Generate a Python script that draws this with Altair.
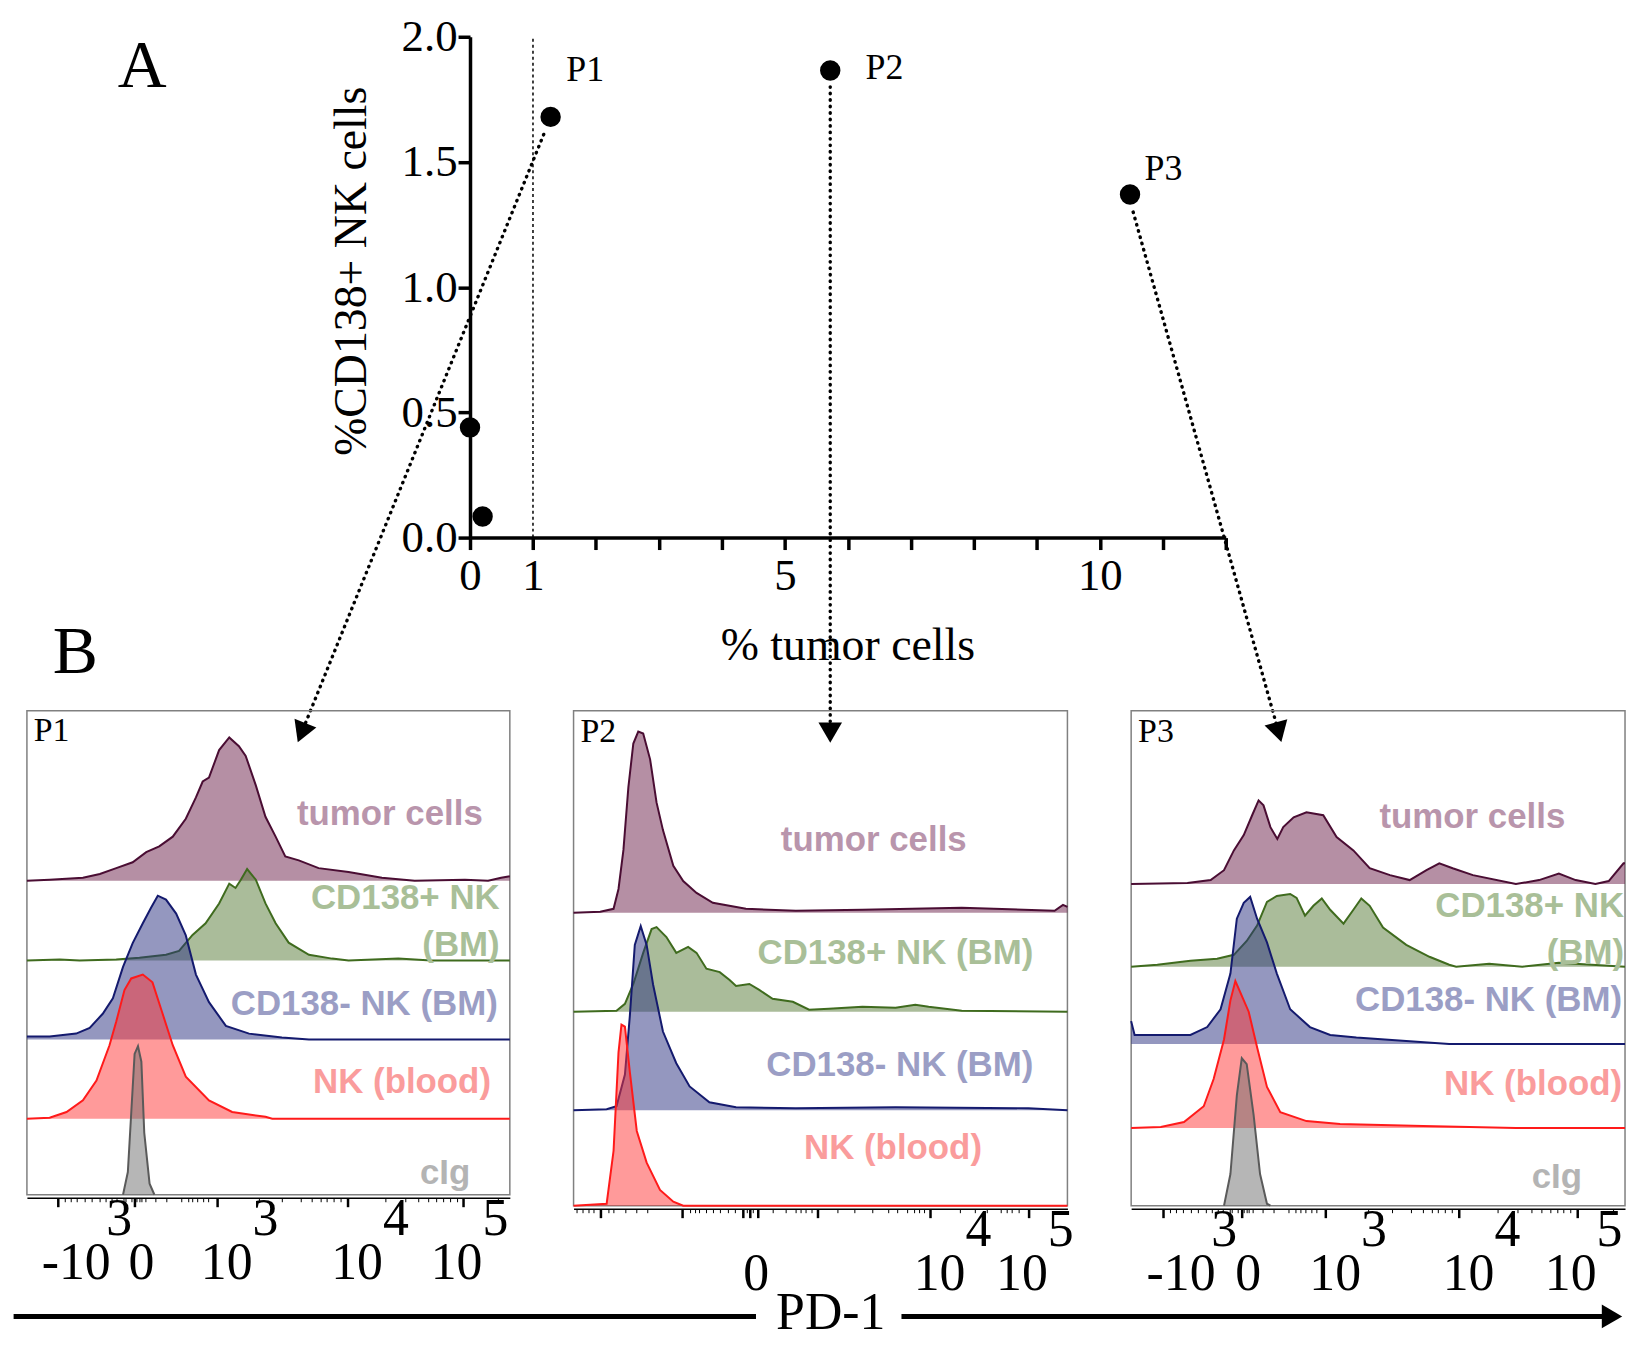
import altair as alt
import pandas as pd

SERIF = "Liberation Serif"
SANS = "Liberation Sans"

# ---------------- Panel A : scatter ----------------
TUMOR_PCT = [0.0, 0.2, 1.28, 5.72, 10.48]
CD138_NK_PCT = [0.44, 0.084, 1.68, 1.865, 1.37]

PATIENT_LABELS = ["P1", "P2", "P3"]
PATIENT_LABEL_X = [1.53, 6.28, 10.71]
PATIENT_LABEL_Y = [1.825, 1.833, 1.427]

X_TICKS = list(range(0, 13))
X_LABELLED = [0, 1, 5, 10]
Y_TICKS = [0.0, 0.5, 1.0, 1.5, 2.0]

# dotted connectors (scatter data units) from the patients to their histograms
ARROW_START_X = [1.17, 5.72, 10.53]
ARROW_START_Y = [1.61, 1.80, 1.30]
ARROW_HEAD_X = [-2.674, 5.72, 12.84]
ARROW_HEAD_Y = [-0.779, -0.779, -0.777]
ARROW_ANGLE = [22, 0, 344.6]

PANEL_LETTERS = ["A", "B"]
PANEL_LETTER_X = [-5.206, -6.266]
PANEL_LETTER_Y = [1.80, -0.54]

PD1_Y = -3.11
PD1_TEXT_Y = -3.095
PD1_SEG_X = [-7.247, 6.851]
PD1_SEG_X2 = [4.541, 18.133]
PD1_TEXT_X = 5.728
PD1_HEAD_X = 18.133

# ---------------- Panel B : PD-1 histograms (channel %, height % of panel) -------
P1_TUMOR = [(0, 0), (4.7, 0.2), (11.6, 0.6), (15.1, 1.4), (18.5, 2.6), (21.9, 3.8), (24.7, 5.9),
            (27.4, 7.1), (30.2, 9.1), (32.9, 12.8), (35.0, 17.2), (36.4, 20.5), (37.7, 21.3),
            (39.8, 27.0), (41.9, 29.6), (43.9, 27.8), (45.3, 25.8), (47.4, 19.7), (49.4, 13.2),
            (51.5, 9.1), (53.5, 5.0), (56.3, 4.2), (60.4, 2.6), (66.6, 1.8), (73.5, 0.6),
            (80.3, 0.0), (90.7, 0.2), (95.5, 0.0), (98.2, 0.6), (100, 0.9)]
P1_CD138P = [(0, 0), (6.8, 0.2), (10.9, 0), (18.5, 0.2), (23.3, 0.6), (28.8, 1.2), (31.5, 2.0),
             (34.3, 5.3), (37.0, 7.7), (39.8, 11.8), (41.9, 15.9), (43.2, 15.0), (44.3, 16.7),
             (45.6, 18.9), (47.4, 16.7), (49.4, 11.8), (51.5, 7.7), (54.2, 3.7), (58.4, 1.2),
             (63.2, 0.4), (66.6, 0), (76.9, 0.4), (83.7, 0), (100, 0)]
P1_CD138N = [(0, 0.6), (4.7, 0.6), (10.2, 1.2), (13.0, 2.4), (15.7, 5.3), (17.8, 8.5), (19.9, 15.0),
             (21.9, 19.9), (24.0, 24.0), (25.7, 27.2), (27.1, 29.7), (28.8, 28.9), (30.9, 26.0),
             (32.9, 21.5), (35.0, 13.4), (37.7, 7.7), (41.2, 2.8), (46.0, 1.2), (52.8, 0.4),
             (58.4, 0), (100, 0)]
P1_NK = [(0, 0), (4.7, 0.2), (8.2, 1.4), (11.6, 3.8), (14.4, 7.9), (17.1, 15.2), (18.5, 20.1),
         (20.2, 26.6), (21.6, 29.0), (24.0, 29.8), (26.0, 28.2), (28.1, 21.7), (30.2, 15.2),
         (32.9, 8.7), (37.7, 3.8), (42.5, 1.4), (49.4, 0.4), (50.8, 0), (100, 0)]
P1_CIG = [(19.9, 0), (20.9, 4.7), (21.6, 16.9), (22.3, 29.1), (23.0, 30.7), (23.7, 27.5),
          (24.3, 12.8), (25.4, 2.3), (26.4, 0)]

P2_TUMOR = [(0, 0), (5.4, 0.2), (8.1, 0.8), (9.1, 4.8), (10.1, 12.7), (11.1, 25.4), (12.1, 34.2),
            (13.1, 36.6), (14.1, 36.2), (15.5, 31.0), (16.8, 22.3), (18.1, 16.7), (20.2, 9.5),
            (22.2, 6.4), (24.9, 4.0), (28.2, 2.0), (34.9, 0.8), (45.0, 0.4), (58.5, 0.6),
            (78.6, 1.0), (97.4, 0.4), (99.1, 1.6), (100, 1.2)]
P2_CD138P = [(0, 0), (8.7, 0.2), (10.4, 1.6), (12.1, 5.6), (14.1, 11.9), (15.8, 16.7), (16.8, 17.1),
             (18.8, 15.1), (20.8, 11.9), (23.2, 13.1), (24.9, 11.9), (26.9, 8.7), (29.6, 8.0),
             (31.6, 6.4), (32.9, 5.2), (35.6, 5.6), (37.6, 4.4), (40.3, 2.6), (44.4, 2.0),
             (47.7, 0.4), (51.7, 0.6), (58.5, 1.0), (65.2, 0.8), (69.2, 1.4), (71.9, 1.0),
             (78.6, 0.2), (100, 0)]
P2_CD138N = [(0, 0), (6.7, 0.2), (8.7, 0.8), (10.4, 7.2), (11.4, 19.1), (12.4, 33.4), (13.6, 37.2),
             (14.8, 33.4), (16.1, 25.4), (18.1, 15.9), (20.8, 9.5), (23.5, 4.8), (27.5, 1.6),
             (32.9, 0.6), (45.0, 0.4), (65.2, 0.6), (92.1, 0.4), (100, 0)]
P2_NK = [(0, 0), (6.7, 0.4), (8.1, 11.1), (9.1, 31.0), (9.7, 36.6), (10.4, 36.2), (11.4, 27.0),
         (12.8, 15.1), (14.8, 8.7), (17.5, 3.2), (20.2, 0.8), (22.2, 0), (100, 0)]

P3_TUMOR = [(0, 0), (11.4, 0.2), (16.1, 0.8), (18.8, 2.8), (20.8, 6.8), (22.8, 9.9), (24.5, 13.9),
            (25.8, 16.9), (26.8, 15.9), (28.2, 11.5), (29.6, 9.1), (30.8, 11.5), (32.9, 13.5),
            (35.5, 14.5), (38.9, 13.9), (41.6, 9.5), (45.0, 6.8), (48.3, 3.2), (52.4, 1.8),
            (56.4, 0.8), (59.8, 2.8), (62.4, 4.2), (65.1, 3.2), (69.2, 1.8), (77.9, 0),
            (82.6, 0.8), (86.6, 2.1), (90.0, 0.8), (94.0, 0), (96.7, 0.6), (99.7, 4.2), (100, 4.2)]
P3_CD138P = [(0, 0), (5.3, 0.4), (12.0, 1.2), (17.4, 1.6), (20.8, 2.4), (23.4, 5.2), (25.5, 8.3),
             (27.5, 13.1), (29.5, 14.3), (32.2, 14.7), (33.5, 13.9), (35.2, 10.3), (36.9, 12.3),
             (38.6, 13.8), (40.3, 11.5), (43.0, 8.7), (45.0, 11.5), (46.6, 13.8), (48.3, 12.3),
             (51.0, 7.9), (55.7, 4.4), (60.4, 2.0), (64.4, 0.4), (65.8, 0), (72.5, 0.6),
             (79.2, 0), (86.6, 0.8), (100, 0)]
P3_CD138N = [(0, 4.6), (0.7, 1.8), (5.3, 1.8), (12.0, 1.8), (15.4, 3.4), (18.1, 7.0), (20.1, 14.2),
             (21.4, 25.3), (22.8, 28.5), (24.1, 29.7), (25.5, 25.3), (27.5, 20.5), (29.5, 14.2),
             (32.2, 7.0), (36.2, 3.4), (40.3, 1.8), (45.6, 1.3), (55.7, 0.6), (64.4, 0), (100, 0)]
P3_NK = [(0, 0), (6.0, 0.2), (10.7, 1.2), (14.7, 4.4), (16.7, 9.9), (18.8, 17.9), (20.1, 25.8),
         (21.1, 29.7), (22.1, 27.4), (23.8, 23.5), (25.5, 16.3), (27.5, 8.3), (30.2, 3.2),
         (35.5, 1.4), (42.3, 0.8), (59.1, 0.4), (77.9, 0), (100, 0)]
P3_CIG = [(18.8, 0), (20.1, 6.4), (21.4, 22.3), (22.4, 29.8), (23.4, 28.6), (24.8, 18.3),
          (26.1, 6.4), (27.5, 0.4), (28.2, 0)]

POPULATIONS = ["tumor", "cd138p", "cd138n", "nk", "cig"]
POP_FILL = {"tumor": "#6B1F4A", "cd138p": "#557A35", "cd138n": "#2A2F80", "nk": "#FF3535", "cig": "#6E6E6E"}
POP_LINE = {"tumor": "#4A0D33", "cd138p": "#3F6B1E", "cd138n": "#141A6E", "nk": "#FF1A1A", "cig": "#5A5A5A"}
POP_TEXT = {"tumor": "#B995AC", "cd138p": "#A9BF98", "cd138n": "#9B9EC5", "nk": "#FA9C9C", "cig": "#B4B4B4"}

P1_CURVES = {"tumor": P1_TUMOR, "cd138p": P1_CD138P, "cd138n": P1_CD138N, "nk": P1_NK, "cig": P1_CIG}
P2_CURVES = {"tumor": P2_TUMOR, "cd138p": P2_CD138P, "cd138n": P2_CD138N, "nk": P2_NK}
P3_CURVES = {"tumor": P3_TUMOR, "cd138p": P3_CD138P, "cd138n": P3_CD138N, "nk": P3_NK, "cig": P3_CIG}

# ridge offsets (% of panel height)
P1_OFFSETS = {"tumor": 64.9, "cd138p": 48.4, "cd138n": 32.1, "nk": 15.7, "cig": 0}
P2_OFFSETS = {"tumor": 59.2, "cd138p": 39.2, "cd138n": 19.3, "nk": 0}
P3_OFFSETS = {"tumor": 65.0, "cd138p": 48.3, "cd138n": 32.7, "nk": 15.7, "cig": 0}

# population labels: (text, pop, channel of right edge, height)
P1_LABELS = [("tumor cells", "tumor", 94.4, 78.6), ("CD138+ NK", "cd138p", 97.9, 61.3),
             ("(BM)", "cd138p", 97.9, 51.6), ("CD138- NK (BM)", "cd138n", 97.5, 39.5),
             ("NK (blood)", "nk", 96.1, 23.3), ("cIg", "cig", 91.8, 4.5)]
P2_LABELS = [("tumor cells", "tumor", 79.6, 73.8), ("CD138+ NK (BM)", "cd138p", 93.1, 51.1),
             ("CD138- NK (BM)", "cd138n", 93.1, 28.4), ("NK (blood)", "nk", 82.7, 11.7)]
P3_LABELS = [("tumor cells", "tumor", 87.9, 78.5), ("CD138+ NK", "cd138p", 99.8, 60.6),
             ("(BM)", "cd138p", 99.8, 51.1), ("CD138- NK (BM)", "cd138n", 99.4, 41.6),
             ("NK (blood)", "nk", 99.4, 24.5), ("cIg", "cig", 91.3, 5.8)]

# logicle axis ticks (channel %)
AXIS_A_TICKS = [6.45, 7.84, 9.0, 10.4, 12.0, 13.5, 15.05, 16.3, 17.5, 18.6, 19.9, 20.4, 21.6, 22.3,
                22.7, 23.3, 23.8, 24.5, 26.7, 28.8, 31.9, 33.3, 34.3, 35.3, 36.4, 37.6, 39.4, 48.0,
                52.8, 56.6, 59.0, 60.8, 62.1, 63.5, 64.9, 66.4, 74.2, 78.3, 81.0, 83.1, 84.8, 86.2,
                87.6, 89.0, 90.3, 97.5]
AXIS_A_MAJOR = [6.45, 22.3, 39.4, 66.4, 90.3]
# (tick, base text, exponent, number of no-break spaces before the exponent)
AXIS_A_LABELS = [(6.45, "-10", "3", 5), (22.3, "0", "", 0), (39.4, "10", "3", 4),
                 (66.4, "10", "4", 4), (90.3, "10", "5", 4)]
AXIS_B_TICKS = [0.7, 1.9, 3.0, 4.0, 5.4, 7.1, 8.1, 10.4, 12.8, 14.9, 22.0, 23.5, 24.5, 25.5, 26.9,
                28.2, 29.6, 31.3, 32.6, 34.3, 35.0, 35.6, 36.3, 37.3, 40.3, 43.0, 45.0, 46.0, 47.0,
                48.1, 49.4, 53.4, 56.8, 60.5, 63.8, 65.5, 67.5, 68.9, 69.9, 70.9, 72.2, 78.3, 81.3,
                83.7, 86.4, 87.7, 88.7, 90.1, 92.1]
AXIS_B_MAJOR = [5.4, 22.0, 34.3, 35.6, 37.3, 49.4, 72.2, 92.1]
AXIS_B_LABELS = [(35.6, "0", "", 0), (72.2, "10", "4", 4), (92.1, "10", "5", 4)]


# ======================= Panel A chart =======================
xs = alt.Scale(domain=[0, 12], range=[-104, 655], nice=False, zero=False)
ys = alt.Scale(domain=[0, 2], nice=False, zero=False)
x_axis = alt.Axis(values=X_TICKS,
                  labelExpr="indexof(%s, datum.value) >= 0 ? datum.label : ''" % str(X_LABELLED),
                  title="% tumor cells", titleFont=SERIF, titleFontSize=46, titleFontWeight="normal",
                  titleColor="black", titlePadding=25, titleX=275, labelFont=SERIF, labelFontSize=45,
                  labelColor="black", labelPadding=4, tickSize=12, tickWidth=3.5, tickColor="black",
                  domainColor="black", domainWidth=3.5, grid=False, labelFlush=False,
                  labelOverlap=False, labelBound=False)
y_axis = alt.Axis(values=Y_TICKS, format=".1f", title="%CD138+ NK cells", titleFont=SERIF,
                  titleFontSize=46, titleFontWeight="normal", titleColor="black", titlePadding=26,
                  titleY=235, offset=104,
                  labelFont=SERIF, labelFontSize=45, labelColor="black", labelPadding=1,
                  tickSize=12, tickWidth=3.5, tickColor="black", domainColor="black",
                  domainWidth=3.5, grid=False, labelFlush=False, labelOverlap=False)
XA = alt.X("x:Q", scale=xs, axis=x_axis)
YA = alt.Y("y:Q", scale=ys, axis=y_axis)

pts = pd.DataFrame({"x": TUMOR_PCT, "y": CD138_NK_PCT})
points = alt.Chart(pts).mark_circle(size=420, color="black", opacity=1).encode(x=XA, y=YA)

vline = alt.Chart(pd.DataFrame({"x": [1], "y": [0], "y2": [2]})).mark_rule(
    color="black", strokeWidth=1.5, strokeDash=[3, 3]).encode(x=XA, y=YA, y2="y2:Q")

arrows_df = pd.DataFrame({"x": ARROW_START_X, "y": ARROW_START_Y,
                          "x2": ARROW_HEAD_X, "y2": ARROW_HEAD_Y})
arrow_lines = alt.Chart(arrows_df).mark_rule(
    color="black", strokeWidth=3.4, strokeDash=[0.5, 6], strokeCap="round"
).encode(x=XA, y=YA, x2="x2:Q", y2="y2:Q")
heads_df = pd.DataFrame({"x": ARROW_HEAD_X, "y": ARROW_HEAD_Y, "angle": ARROW_ANGLE})
arrow_heads = alt.Chart(heads_df).mark_point(
    shape="triangle-down", size=560, filled=True, color="black", opacity=1, strokeWidth=0
).encode(x=XA, y=YA, angle=alt.Angle("angle:Q", scale=None))

plabels = alt.Chart(pd.DataFrame({"x": PATIENT_LABEL_X, "y": PATIENT_LABEL_Y, "t": PATIENT_LABELS})
                    ).mark_text(font=SERIF, fontSize=36, align="left", baseline="alphabetic",
                                color="black").encode(x=XA, y=YA, text="t:N")
letters = alt.Chart(pd.DataFrame({"x": PANEL_LETTER_X, "y": PANEL_LETTER_Y, "t": PANEL_LETTERS})
                    ).mark_text(font=SERIF, fontSize=68, align="center", baseline="alphabetic",
                                color="black").encode(x=XA, y=YA, text="t:N")

pd1_lines = alt.Chart(pd.DataFrame({"x": PD1_SEG_X, "x2": PD1_SEG_X2, "y": [PD1_Y, PD1_Y]})
                      ).mark_rule(color="black", strokeWidth=5).encode(x=XA, x2="x2:Q", y=YA)
pd1_text = alt.Chart(pd.DataFrame({"x": [PD1_TEXT_X], "y": [PD1_TEXT_Y], "t": ["PD-1"]})
                     ).mark_text(font=SERIF, fontSize=52, align="center", baseline="middle",
                                 color="black").encode(x=XA, y=YA, text="t:N")
pd1_head = alt.Chart(pd.DataFrame({"x": [PD1_HEAD_X], "y": [PD1_Y]})).mark_point(
    shape="triangle-right", size=560, filled=True, color="black", opacity=1, strokeWidth=0
).encode(x=XA, y=YA)

top = alt.layer(vline, arrow_lines, points, arrow_heads, plabels, letters,
                pd1_lines, pd1_text, pd1_head).properties(width=496, height=503)


# ======================= Panel B charts =======================
def label_expr(entries):
    parts = []
    for v, base, exp, n in entries:
        upper = ("\u200b" + "\u00a0" * n + exp) if exp else ""
        lower = base if exp else "\u200b\u2009" + base
        parts.append("abs(datum.value - %s) < 0.001 ? ['%s', '%s']" % (v, upper, lower))
    return " : ".join(parts) + " : ''"


def histo_panel(curves, offsets, labels, name, ticks, majors, lab_entries, width, height):
    major_test = "indexof(%s, datum.value) >= 0" % str(majors)
    last_test = "abs(datum.value - %s) < 0.001" % lab_entries[-1][0]
    axis = alt.Axis(values=ticks, labelExpr=label_expr(lab_entries), title=None, grid=False,
                    offset=3, domainColor="black", domainWidth=1.5, tickColor="black",
                    tickSize={"condition": {"test": major_test, "value": 9}, "value": 4},
                    tickWidth={"condition": {"test": major_test, "value": 2.5}, "value": 1},
                    labelOffset={"condition": {"test": last_test, "value": -33}, "value": -17},
                    labelFont=SERIF, labelFontSize=52, labelLineHeight=44, labelColor="black",
                    labelAlign="left", labelBaseline="top", labelPadding=-13,
                    labelOverlap=False, labelFlush=False, labelBound=False, labelLimit=0)
    X = alt.X("ch:Q", scale=alt.Scale(domain=[0, 100], nice=False, zero=False), axis=axis)
    Y = alt.Y("yv:Q", scale=alt.Scale(domain=[0, 100], nice=False, zero=False), axis=None)
    layers = []
    for pop in POPULATIONS:
        if pop not in curves:
            continue
        df = pd.DataFrame(curves[pop], columns=["ch", "h"])
        df["yv"] = df["h"] + offsets[pop]
        df["yb"] = offsets[pop]
        layers.append(alt.Chart(df).mark_area(
            color=POP_FILL[pop], fillOpacity=0.5, interpolate="linear",
            line={"color": POP_LINE[pop], "strokeWidth": 2}
        ).encode(x=X, y=Y, y2="yb:Q"))
    ldf = pd.DataFrame(labels, columns=["t", "pop", "ch", "yv"])
    ldf["c"] = ldf["pop"].map(POP_TEXT)
    layers.append(alt.Chart(ldf).mark_text(font=SANS, fontWeight="bold", fontSize=35, align="right",
                                           baseline="middle").encode(
        x=X, y=Y, text="t:N", color=alt.Color("c:N", scale=None)))
    layers.append(alt.Chart(pd.DataFrame({"ch": [1.4], "yv": [93.7], "t": [name]})).mark_text(
        font=SERIF, fontSize=34, align="left", baseline="alphabetic", color="black"
    ).encode(x=X, y=Y, text="t:N"))
    return alt.layer(*layers).properties(
        width=width, height=height,
        view=alt.ViewBackground(stroke="#808080", strokeWidth=1.5))


p1 = histo_panel(P1_CURVES, P1_OFFSETS, P1_LABELS, "P1", AXIS_A_TICKS, AXIS_A_MAJOR,
                 AXIS_A_LABELS, 485, 486)
p2 = histo_panel(P2_CURVES, P2_OFFSETS, P2_LABELS, "P2", AXIS_B_TICKS, AXIS_B_MAJOR,
                 AXIS_B_LABELS, 496, 497)
p3 = histo_panel(P3_CURVES, P3_OFFSETS, P3_LABELS, "P3", AXIS_A_TICKS, AXIS_A_MAJOR,
                 AXIS_A_LABELS, 496, 497)


def spacer(w):
    return alt.Chart(pd.DataFrame({"ch": [0]})).mark_point(opacity=0).encode(
        x=alt.X("ch:Q", axis=None), y=alt.Y("ch:Q", axis=None)).properties(width=w, height=503)


chart = alt.concat(spacer(485), top, spacer(496), p1, p2, p3, columns=3,
                   spacing={"row": 174, "column": 64}, bounds="flush", align="each"
                   ).properties(padding={"left": 3, "top": 4, "right": 0, "bottom": 0}
                   ).configure_view(stroke=None)

chart.save("out.html", embed_options={"renderer": "svg", "actions": False})
